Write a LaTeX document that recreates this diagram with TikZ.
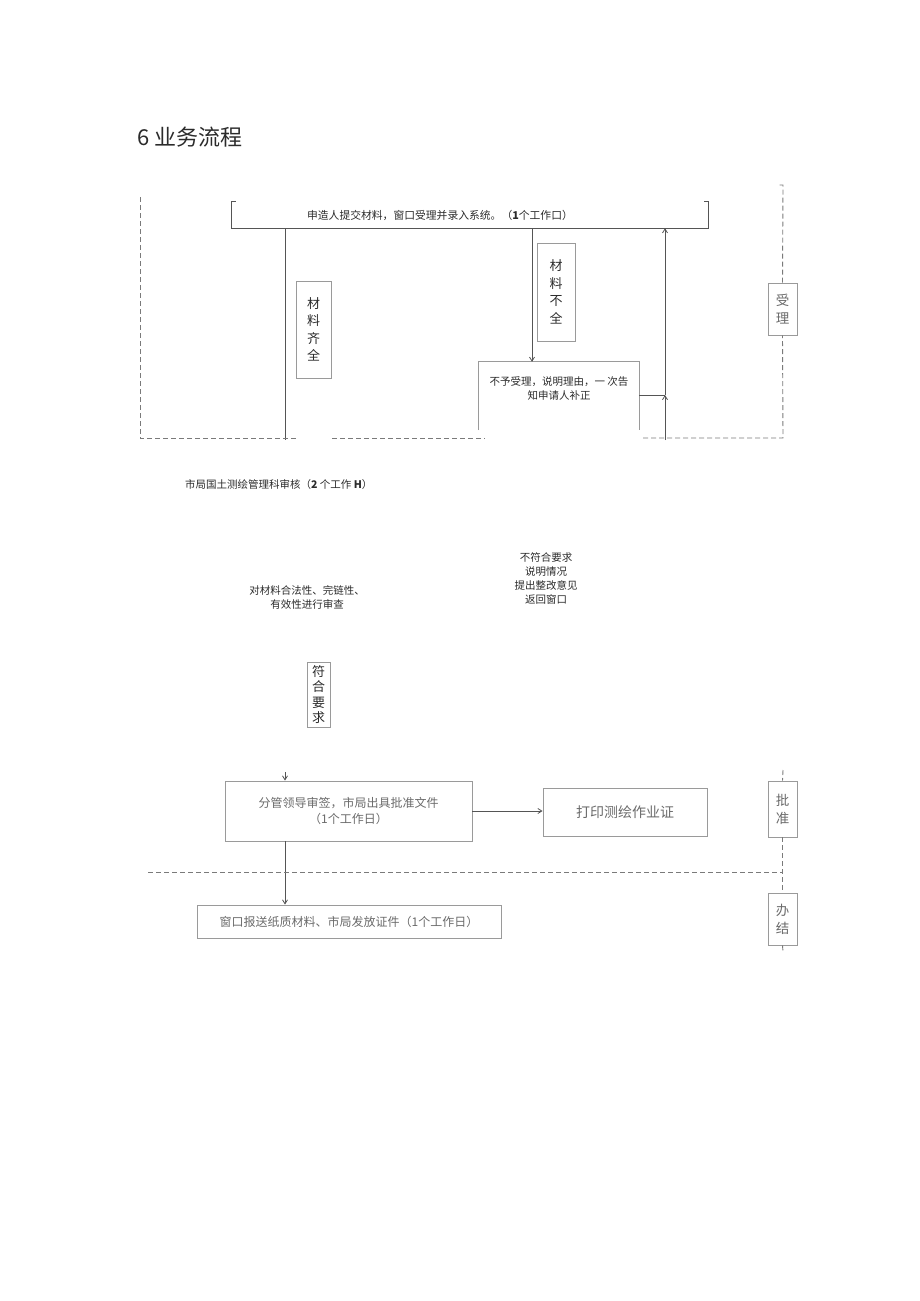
\documentclass[tikz,border=0pt]{standalone}
\usepackage{fontspec}
\setmainfont{Noto Sans CJK SC}
\usetikzlibrary{positioning,calc,arrows.meta}
\definecolor{flowline}{HTML}{555555}
\definecolor{flowdash}{HTML}{7A7A7A}
\definecolor{flowtext}{HTML}{2B2B2B}
\definecolor{flowgray}{HTML}{6A6A6A}
\definecolor{flowbox}{HTML}{9A9A9A}
\tikzset{
  lbl/.style={font=\fontsize{10.5}{14}\selectfont, text=flowtext, inner sep=0pt},
  vlbl/.style={draw=flowbox, line width=0.8pt, font=\fontsize{13}{17.5}\selectfont,
    align=center, text=flowtext, inner sep=0pt},
  stagebox/.style={draw=flowbox, line width=0.9pt, fill=white, font=\fontsize{13.5}{18}\selectfont,
    align=center, text=flowgray, minimum width=29, inner sep=0pt},
  procbox/.style={draw=flowbox, line width=0.9pt, font=\fontsize{12}{15.5}\selectfont,
    text=flowgray, align=center, inner sep=0pt},
  flow/.style={line width=0.8pt, draw=flowline},
  sep/.style={line width=0.9pt, draw=flowdash, dash pattern=on 5pt off 3pt},
}

\begin{document}
\begin{tikzpicture}[x=1pt,y=-1pt,
  tip/.style={-{Straight Barb[length=4pt,width=5pt]}}]
\useasboundingbox (0,0) rectangle (920,1301);

\node[font=\fontsize{22}{26}\selectfont, text=flowtext, anchor=west, inner sep=0pt] (title) at (137,137) {6 业务流程};

% ---- 受理 ----
\node[minimum width=476, minimum height=26, inner sep=0pt] (submit) at (470,215) {};
\draw[flow] ([xshift=4]submit.north west) -- (submit.north west) -- (submit.south west)
  -- (submit.south east) -- (submit.north east) -- ([xshift=-4]submit.north east);
\node[lbl, font=\fontsize{10.8}{14}\selectfont] (submittxt) at ([xshift=-30]submit.center)
  {申造人提交材料，窗口受理并录入系统。（\textbf{1}个工作口）};

\node[vlbl, minimum width=35, minimum height=97] (full) at (313.5,329.5) {材\\料\\齐\\全};
\node[vlbl, minimum width=38, minimum height=98] (lack) at (556,292) {材\\料\\不\\全};

\node[minimum width=160, minimum height=68, inner sep=0pt] (reject) at (559,396) {};
\draw[flow, draw=flowbox] (reject.south west) -- (reject.north west) -- (reject.north east) -- (reject.south east);
\node[lbl, align=center, below=15pt of reject.north] (rejecttxt) {不予受理，说明理由，一 次告\\知申请人补正};

\node[stagebox, minimum height=52] (accept) at (782.5,309) {受\\理};

\coordinate (fullend) at (285,440);
\coordinate (lackx) at (532,0);
\coordinate (retfoot) at (665,440);
\coordinate (retmid) at (665,395);
\draw[flow] (submit.south -| fullend) -- (fullend);
\draw[flow, tip] (submit.south -| lackx) -- (reject.north -| lackx);
\draw[flow] (reject.east |- retmid) -- (retmid);
\draw[flow, tip] (retfoot) -- (retmid);
\draw[flow, tip] (retmid) -- (submit.south -| retmid);

% ---- stage frame ----
\draw[sep] (140,197) -- (140,438) -- (297,438);
\draw[sep] (332,438) -- (485,438);
\draw[sep] (643,438) -- (783,438) -- (accept.south);
\draw[sep] (accept.north) -- (783,185) -- (779,185);

% ---- 审核 ----
\node[lbl, anchor=west] (review) at (185,485) {市局国土测绘管理科审核（\textbf{2} 个工作 \textbf{H}）};
\node[lbl, align=center] (check) at (307,597) {对材料合法性、完链性、\\有效性进行审查};
\node[lbl, align=center] (fail) at (546,578) {不符合要求\\说明情况\\提出整改意见\\返回窗口};
\node[vlbl, minimum width=23, minimum height=65, font=\fontsize{13}{15.5}\selectfont] (ok) at (318.5,694.5) {符\\合\\要\\求};

% ---- 批准 / 办结 ----
\coordinate (okfoot) at (285,772);
\node[procbox, minimum width=247, minimum height=60] (approve) at (348.5,811)
  {分管领导审签，市局出具批准文件\\（1个工作日）};
\node[procbox, minimum width=164, minimum height=48, font=\fontsize{14}{17}\selectfont] (print) at (625,812) {打印测绘作业证};
\node[procbox, minimum width=304, minimum height=33] (send) at (349,921.5)
  {窗口报送纸质材料、市局发放证件（1个工作日）};
\draw[flow, tip] (okfoot) -- (approve.north -| okfoot);
\draw[flow, tip] (approve.east) -- (print.west |- approve.east);
\draw[flow, tip] (approve.south -| okfoot) -- (send.north -| okfoot);

\node[stagebox, minimum height=56] (ratify) at (782.5,809) {批\\准};
\node[stagebox, minimum height=52] (finish) at (782.5,919) {办\\结};
\draw[sep] (783,770) -- (ratify.north);
\draw[sep] (ratify.south) -- (finish.north);
\draw[sep] (148,872) -- (783,872);
\draw[sep] (finish.south) -- (783,952);

\end{tikzpicture}
\end{document}
